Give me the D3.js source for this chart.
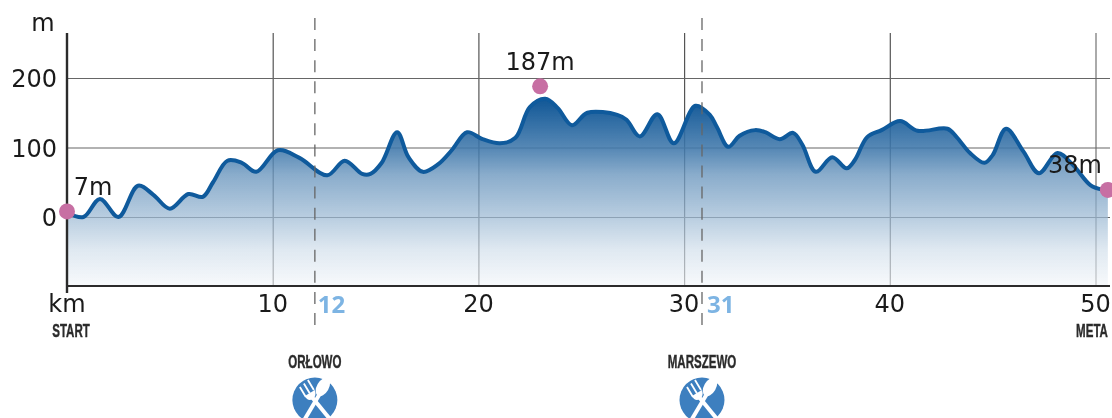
<!DOCTYPE html>
<html>
<head>
<meta charset="utf-8">
<script src="https://cdn.jsdelivr.net/npm/d3@7"></script>
<style>
  html, body { margin: 0; padding: 0; background: #fff; overflow: hidden; }
  svg { display: block; filter: blur(0.45px); }
  text { font-family: "DejaVu Sans", sans-serif; fill: #1a1a1a; }
  .place { font-family: "Liberation Sans", sans-serif; font-weight: 700; fill: #2b2b2b; stroke: #2b2b2b; stroke-width: 0.4; }
  .stop-km { font-family: "Open Sans", sans-serif; font-weight: 700; fill: #7db4e3; }
</style>
</head>
<body>
<div id="chart"></div>
<script>
// profile
const routeKm = [0, 0.8, 1.6, 2.5, 3.45, 4.2, 5, 5.9, 6.6, 7.1, 7.8, 8.5, 9.2, 10.25, 11.3, 12.65, 13.5, 14.35, 14.75, 15.3, 16.05, 16.6, 17.3, 18.05, 18.7, 19.45, 20.2, 21.05, 21.8, 22.5, 23.25, 23.85, 24.55, 25.3, 26.75, 27.2, 27.85, 28.7, 29.5, 30.55, 31.25, 31.6, 32.15, 32.7, 33.45, 33.95, 34.65, 35.3, 35.75, 36.4, 37.2, 37.9, 38.3, 38.9, 39.6, 40.5, 41.35, 42.8, 43.25, 43.9, 44.6, 45, 45.65, 46.5, 47.25, 48.15, 48.9, 49.75, 50.35, 50.6];
const elevation = [7, 0, 26, 0, 45, 32, 12, 33, 29, 50, 81, 78, 65, 96, 85, 60, 81, 62, 62, 78, 122, 86, 65, 76, 96, 122, 112, 106, 114, 158, 170, 157, 132, 150, 147, 140, 116, 148, 106, 160, 147, 129, 101, 117, 125, 122, 112, 121, 104, 65, 86, 70, 82, 115, 125, 138, 124, 127, 115, 92, 78, 89, 127, 94, 63, 92, 75, 46, 39, 38];

const kmTicks = [10, 20, 30, 40, 50];
const mTicks = [0, 100, 200];

const markerKm = [0, 23, 50.6];
const markerM = [8, 188, 39];
const markerLabels = ["7m", "187m", "38m"];

const stopKm = [12.05, 30.87];
const stopLabels = ["12", "31"];
const stopNames = ["ORŁOWO", "MARSZEWO"];

const width = 1112, height = 418;
const margin = { left: 67, top: 33, bottom: 132 };

const x = d3.scaleLinear().domain([0, 50]).range([margin.left, 1095.5]);
const y = d3.scaleLinear().domain([0, 200]).range([217, 78]);
const plotBottom = height - margin.bottom;
const plotRight = 1110;

const svg = d3.select("#chart").append("svg")
  .attr("width", width)
  .attr("height", height);

const grad = svg.append("defs").append("linearGradient")
  .attr("id", "fade")
  .attr("gradientUnits", "userSpaceOnUse")
  .attr("x1", 0).attr("x2", 0)
  .attr("y1", 98).attr("y2", plotBottom + 4);
[[0, 0.98], [0.27, 0.68], [0.4, 0.48], [0.62, 0.29], [0.79, 0.13], [1, 0.02]].forEach(s => {
  grad.append("stop")
    .attr("offset", s[0])
    .attr("stop-color", "#0b5394")
    .attr("stop-opacity", s[1]);
});

// grid, drawn through the axes
const xGrid = svg.append("g")
  .attr("transform", `translate(0,${plotBottom})`)
  .call(d3.axisBottom(x).tickValues(kmTicks).tickSize(margin.top - plotBottom).tickFormat(""));
xGrid.select(".domain").remove();
xGrid.selectAll("line").attr("stroke", "#555").attr("stroke-width", 1.2);
xGrid.selectAll("line").filter(d => d === 50).attr("stroke", "#aaa").attr("stroke-width", 2);

const yGrid = svg.append("g")
  .attr("transform", `translate(${margin.left},0)`)
  .call(d3.axisLeft(y).tickValues(mTicks).tickSize(margin.left - plotRight).tickFormat(""));
yGrid.select(".domain").remove();
yGrid.selectAll("line").attr("stroke", "#666").attr("stroke-width", 1.2);

// profile
const points = routeKm.map((k, i) => [k, elevation[i]]);
const area = d3.area().x(d => x(d[0])).y0(plotBottom).y1(d => y(d[1])).curve(d3.curveCatmullRom);
// white underlay knocks the grid back inside the fill
svg.append("path")
  .datum(points)
  .attr("fill", "#fff")
  .attr("fill-opacity", 0.6)
  .attr("d", area);
svg.append("path")
  .datum(points)
  .attr("fill", "url(#fade)")
  .attr("d", area);
svg.append("path")
  .datum(points)
  .attr("fill", "none")
  .attr("stroke", "#0f5a9c")
  .attr("stroke-width", 4)
  .attr("stroke-linecap", "round")
  .attr("d", d3.line().x(d => x(d[0])).y(d => y(d[1])).curve(d3.curveCatmullRom));

// dashed refreshment lines
svg.append("g").selectAll("line")
  .data(stopKm)
  .join("line")
  .attr("x1", d => x(d)).attr("x2", d => x(d))
  .attr("y1", 18).attr("y2", 325)
  .attr("stroke", "#666")
  .attr("stroke-width", 1.3)
  .attr("stroke-dasharray", "12 9.07");

// axis frame
const frame = svg.append("g").attr("stroke", "#2b2b2b").attr("fill", "none");
frame.append("line").attr("x1", margin.left).attr("x2", margin.left)
  .attr("y1", margin.top).attr("y2", plotBottom + 7).attr("stroke-width", 2.4);
frame.append("line").attr("x1", margin.left).attr("x2", plotRight)
  .attr("y1", plotBottom).attr("y2", plotBottom).attr("stroke-width", 2);

// tick labels
svg.append("g").selectAll("text")
  .data(kmTicks)
  .join("text")
  .attr("x", d => x(d))
  .attr("y", 312)
  .attr("text-anchor", "middle")
  .attr("font-size", 24)
  .text(d => d);
svg.append("g").selectAll("text")
  .data(mTicks)
  .join("text")
  .attr("x", 57)
  .attr("y", d => y(d) + 9)
  .attr("text-anchor", "end")
  .attr("font-size", 24)
  .text(d => d);
svg.append("text").attr("x", 43).attr("y", 31).attr("text-anchor", "middle").attr("font-size", 24).text("m");
svg.append("text").attr("x", 67).attr("y", 312).attr("text-anchor", "middle").attr("font-size", 24).text("km");

// the original lettering is a heavy condensed face, squeeze the bold sans to fit
function placeName(sel, px, py, label) {
  sel.append("text")
    .attr("class", "place")
    .attr("transform", `translate(${px},${py}) scale(0.64,1)`)
    .attr("text-anchor", "middle")
    .attr("font-size", 18)
    .text(label);
}
placeName(svg, 71, 336.5, "START");
placeName(svg, 1092, 336.5, "META");

// elevation markers
const labelDx = [26, 0, -33];
const labelDy = [-16, -16, -17];
const markers = svg.append("g");
markers.selectAll("circle")
  .data(markerKm)
  .join("circle")
  .attr("cx", d => x(d))
  .attr("cy", (d, i) => y(markerM[i]))
  .attr("r", 8)
  .attr("fill", "#c76fa3");
markers.selectAll("text")
  .data(markerLabels)
  .join("text")
  .attr("x", (d, i) => x(markerKm[i]) + labelDx[i])
  .attr("y", (d, i) => y(markerM[i]) + labelDy[i])
  .attr("text-anchor", "middle")
  .attr("font-size", 24)
  .text(d => d);

// refreshment points
const stopLabelDx = [3, 5];
const stops = svg.append("g").selectAll("g")
  .data(stopKm)
  .join("g")
  .attr("transform", d => `translate(${x(d)},0)`);
stops.append("text")
  .attr("class", "stop-km")
  .attr("x", (d, i) => stopLabelDx[i])
  .attr("y", 313)
  .attr("font-size", 24)
  .text((d, i) => stopLabels[i]);
stops.each(function (d, i) {
  placeName(d3.select(this), 0, 368, stopNames[i]);
});
stops.append("circle")
  .attr("cy", 400)
  .attr("r", 22.5)
  .attr("fill", "#3d7fbf");
// fork
stops.append("path")
  .attr("d", "M-15,387 L-9,397 M-11,383.5 L-5,393.5 M-7,380 L-1,390")
  .attr("fill", "none")
  .attr("stroke", "#fff")
  .attr("stroke-width", 1.8);
stops.append("path")
  .attr("d", "M-10,396 Q-7,402 -2,399 Q2,396 0,390 Z")
  .attr("fill", "#fff");
stops.append("path")
  .attr("d", "M-3,397 L15,419")
  .attr("stroke", "#fff")
  .attr("stroke-width", 4);
// spoon
stops.append("path")
  .attr("d", "M6,392 L-10,419")
  .attr("stroke", "#fff")
  .attr("stroke-width", 4);
stops.append("ellipse")
  .attr("cx", 8)
  .attr("cy", 387)
  .attr("rx", 6)
  .attr("ry", 10)
  .attr("transform", "rotate(30 8 387)")
  .attr("fill", "#fff");
</script>
</body>
</html>
